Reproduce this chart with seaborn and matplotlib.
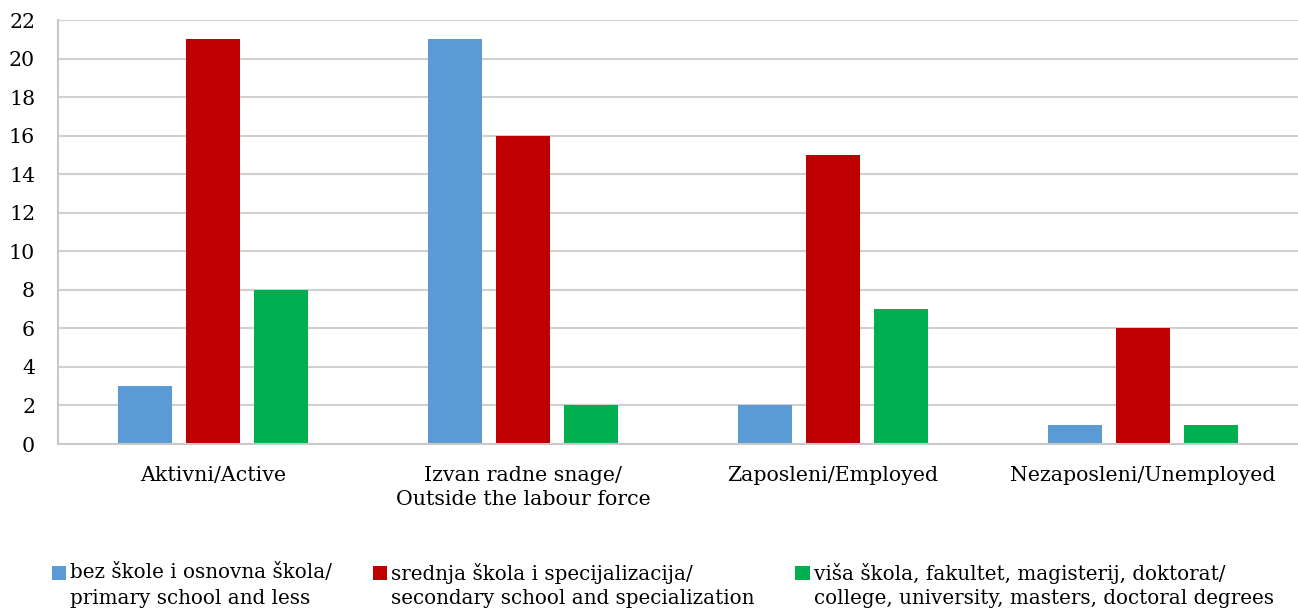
import matplotlib
matplotlib.use("Agg")
import matplotlib.pyplot as plt
import seaborn as sns
import pandas as pd
from matplotlib.legend_handler import HandlerPatch
from matplotlib.patches import Rectangle

categories = ["Aktivni/Active",
              "Izvan radne snage/\nOutside the labour force",
              "Zaposleni/Employed",
              "Nezaposleni/Unemployed"]
series = ["bez škole i osnovna škola/\nprimary school and less",
          "srednja škola i specijalizacija/\nsecondary school and specialization",
          "viša škola, fakultet, magisterij, doktorat/\ncollege, university, masters, doctoral degrees"]
primary = [3, 21, 2, 1]
secondary = [21, 16, 15, 6]
higher = [8, 2, 7, 1]
colors = ["#5b9bd5", "#c00000", "#00b050"]
yticks = list(range(0, 23, 2))

rows = []
for s, vals in zip(series, [primary, secondary, higher]):
    for c, v in zip(categories, vals):
        rows.append({"cat": c, "series": s, "val": v})
df = pd.DataFrame(rows)

sns.set_theme(style="white")
plt.rcParams["font.family"] = ["DejaVu Serif"]
plt.rcParams["text.color"] = "black"
FS = 14.8
LFS = 14.3

fig = plt.figure(figsize=(12.98, 6.12), dpi=100)
ax = fig.add_axes([58 / 1298, 168 / 612, 1240 / 1298, 424 / 612])

sns.barplot(data=df, x="cat", y="val", hue="series", hue_order=series,
            order=categories, palette=colors, saturation=1, width=0.658,
            gap=0.22, errorbar=None, linewidth=0, ax=ax, legend=False)

ax.set_ylim(0, 22)
ax.set_xlim(-0.5, 3.5)
ax.set_yticks(yticks)
ax.set_yticklabels([str(t) for t in yticks])
ax.set_xlabel("")
ax.set_ylabel("")
ax.yaxis.grid(True, color="#d0d0d0", linewidth=1.5)
ax.set_axisbelow(True)
for side in ["top", "right"]:
    ax.spines[side].set_visible(False)
for side in ["left", "bottom"]:
    ax.spines[side].set_color("#c8c8c8")
    ax.spines[side].set_linewidth(1.5)
ax.tick_params(axis="y", length=0, pad=16.5, labelsize=FS, colors="black")
ax.tick_params(axis="x", length=0, pad=15.5, labelsize=FS, colors="black")
for t in ax.get_xticklabels():
    t.set_linespacing(1.38)


class TopHandler(HandlerPatch):
    def create_artists(self, legend, orig_handle, xdescent, ydescent,
                       width, height, fontsize, trans):
        r = Rectangle((-xdescent, -ydescent + 0.66 * fontsize), width, height,
                      facecolor=orig_handle.get_facecolor(), edgecolor="none",
                      transform=trans)
        return [r]


handles = [Rectangle((0, 0), 1, 1, facecolor=c, edgecolor="none") for c in colors]
leg = fig.legend(handles, series, loc="upper left",
                 bbox_to_anchor=(52 / 1298, 1 - 562.5 / 612), ncol=3,
                 frameon=False, handlelength=0.72, handleheight=0.72,
                 handletextpad=0.2, columnspacing=2.05, fontsize=LFS,
                 borderpad=0, borderaxespad=0,
                 handler_map={Rectangle: TopHandler()})
for t in leg.get_texts():
    t.set_linespacing(1.4)
    t.set_color("black")

fig.savefig("out.png", dpi=100)
